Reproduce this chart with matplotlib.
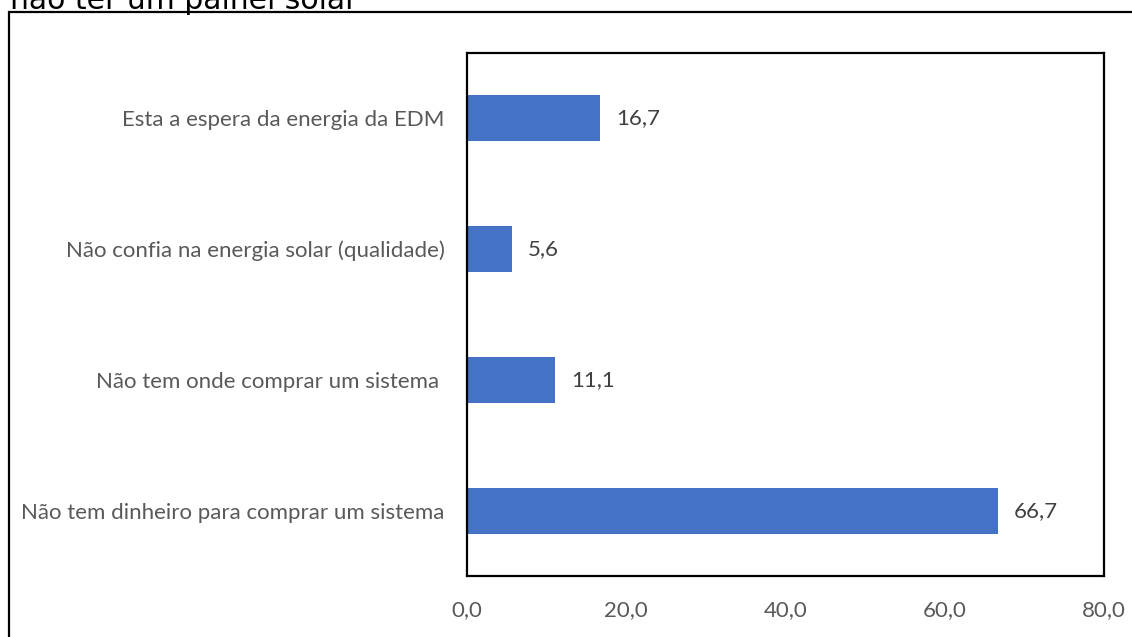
import matplotlib
matplotlib.use("Agg")
import matplotlib.pyplot as plt
from matplotlib.patches import Rectangle
from matplotlib.ticker import FuncFormatter

# Reasons for not having a solar panel (%)
categories = [
    "Não tem dinheiro para comprar um sistema",
    "Não tem onde comprar um sistema ",
    "Não confia na energia solar (qualidade)",
    "Esta a espera da energia da EDM",
]
values = [66.7, 11.1, 5.6, 16.7]
x_ticks = [0, 20, 40, 60, 80]
title = "não ter um painel solar"

W, H = 1132, 637
fig = plt.figure(figsize=(W / 100, H / 100), dpi=100)
fig.patch.set_facecolor("white")

# outer chart border (runs past the right and bottom edges)
fig.patches.append(Rectangle((9 / W, -0.05), 1.2, 1 - 12 / H + 0.05,
                             transform=fig.transFigure, fill=False,
                             edgecolor="black", linewidth=1.6, clip_on=False))

fig.text(10 / W, 1 - 9 / H, title, family="DejaVu Sans", fontsize=21.5,
         color="black", ha="left", va="baseline")

ax = fig.add_axes([467 / W, 1 - 576 / H, (1104 - 467) / W, (576 - 53) / H])
y = list(range(len(categories)))
bars = ax.barh(y, values, height=0.35, color="#4472C4")

ax.set_xlim(0, 80)
ax.set_ylim(-0.5, len(categories) - 0.5)
ax.set_xticks(x_ticks)
ax.xaxis.set_major_formatter(FuncFormatter(lambda v, p: f"{v:.1f}".replace(".", ",")))
ax.set_yticks(y)
ax.set_yticklabels(categories)

fs = 16
ax.tick_params(axis="both", length=0, colors="#595959", labelsize=fs)
ax.tick_params(axis="x", pad=17)
ax.tick_params(axis="y", pad=16)
for t in ax.get_xticklabels() + ax.get_yticklabels():
    t.set_fontfamily("Lato")

for s in ax.spines.values():
    s.set_color("black")
    s.set_linewidth(1.6)

for b, v in zip(bars, values):
    ax.text(v + 2.0, b.get_y() + b.get_height() / 2, f"{v:.1f}".replace(".", ","),
            va="center", ha="left", color="#404040", family="Lato", size=fs)

fig.savefig("out.png", dpi=100, facecolor="white")
